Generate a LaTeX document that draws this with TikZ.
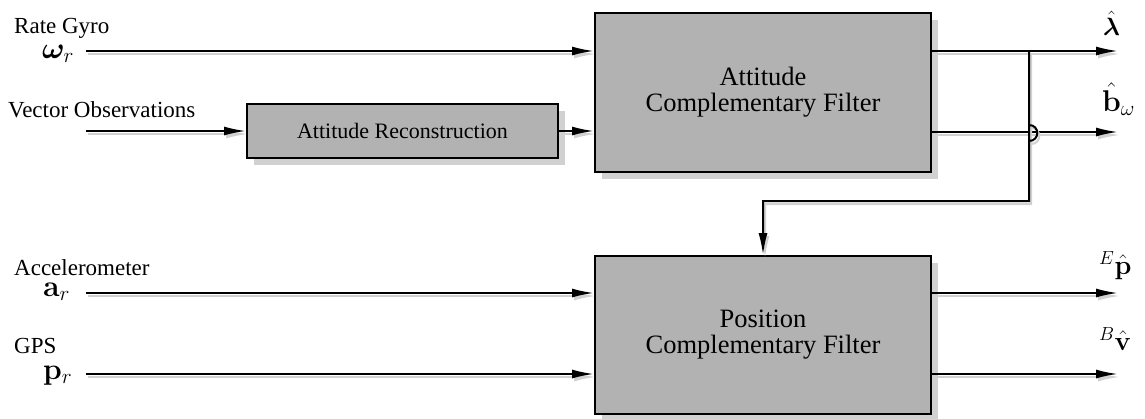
\RequirePackage{fix-cm}
\documentclass[tikz,border=0pt]{standalone}
\usepackage{amsmath,bm}
\usepackage[no-math]{fontspec}
\setmainfont{Liberation Serif}
\newfontfamily\tnr{Liberation Serif}
\usetikzlibrary{arrows.meta,shadows}
\definecolor{boxgray}{gray}{0.70}
\definecolor{shgray}{gray}{0.82}
\tikzset{
  blk/.style={draw=black, line width=2pt, fill=boxgray,
    drop shadow={shadow xshift=7pt, shadow yshift=-7pt, fill=shgray, opacity=1},
    align=center, inner sep=0pt},
  wire/.style={line width=2pt,
    preaction={draw=shgray, line width=2pt, transform canvas={xshift=2pt,yshift=-3pt}}},
  arr/.style={wire, -{Latex[length=22pt,width=9pt]}},
  lbl/.style={font=\tnr\fontsize{23}{26}\selectfont, inner sep=0pt},
  mlbl/.style={font=\fontsize{27}{30}\selectfont, inner sep=0pt, anchor=base west},
  inm/.style={mlbl, font=\fontsize{30}{32}\selectfont},
  bigtxt/.style={font=\tnr\fontsize{26.5}{26}\selectfont},
}
\begin{document}
\begin{tikzpicture}[x=1pt,y=-1pt]
\useasboundingbox (0,0) rectangle (1145,418);
% blocks
\node[blk, bigtxt, minimum width=336pt, minimum height=159pt] (acf) at (763,92.5) {Attitude\\Complementary Filter};
\node[blk, font=\tnr\fontsize{22}{24}\selectfont, minimum width=311pt, minimum height=54pt] (rec) at (402.5,131) {Attitude Reconstruction};
\node[blk, bigtxt, minimum width=336pt, minimum height=158pt] (pcf) at (763,335) {Position\\Complementary Filter};
% input labels
\node[lbl, anchor=base west] (tgyro) at (14,33) {Rate Gyro};
\node[inm] (wr) at (42,58) {$\boldsymbol{\omega}_r$};
\node[lbl, anchor=base west] (tvo) at (8,117) {Vector Observations};
\node[lbl, anchor=base west] (tacc) at (14,275) {Accelerometer};
\node[inm] (ar) at (43,296) {$\mathbf{a}_r$};
\node[lbl, anchor=base west] (tgps) at (14,353) {GPS};
\node[inm] (pr) at (43,379) {$\mathbf{p}_r$};
\coordinate (s1) at (86,51);
\coordinate (s2) at (86,131);
\coordinate (s3) at (86,293);
\coordinate (s4) at (86,374);
% input wires
\draw[arr] (s1) -- (s1 -| acf.west);
\draw[arr] (s2) -- (rec.west);
\draw[arr] (rec.east) -- (rec.east -| acf.west);
\draw[arr] (s3) -- (s3 -| pcf.west);
\draw[arr] (s4) -- (s4 -| pcf.west);
% outputs
\coordinate (o1) at (1118,51);
\coordinate (o2) at (1118,132);
\coordinate (o3) at (1118,293);
\coordinate (o4) at (1118,374);
\coordinate (j) at (1029,51);
\coordinate (hop) at (1029,133);
\draw[arr] (o1 -| acf.east) -- (o1);
\draw[arr] (o2 -| acf.east) -- (o2);
\draw[arr] (o3 -| pcf.east) -- (o3);
\draw[arr] (o4 -| pcf.east) -- (o4);
\draw[arr] (j) -- ([yshift=-8pt]hop) .. controls ([xshift=11pt,yshift=-8pt]hop) and ([xshift=11pt,yshift=8pt]hop) .. ([yshift=8pt]hop) -- (1029,201) -| (pcf.north);
% output labels
\node[mlbl, font=\fontsize{25}{28}\selectfont] (lam) at (1103,35) {$\hat{\boldsymbol{\lambda}}$};
\node[mlbl, font=\fontsize{30}{32}\selectfont] (bw) at (1102,111) {$\hat{\mathbf{b}}_\omega$};
\node[mlbl] (pe) at (1099,274) {${}^E\hat{\mathbf{p}}$};
\node[mlbl] (vb) at (1099,350) {${}^B\hat{\mathbf{v}}$};
\end{tikzpicture}
\end{document}
